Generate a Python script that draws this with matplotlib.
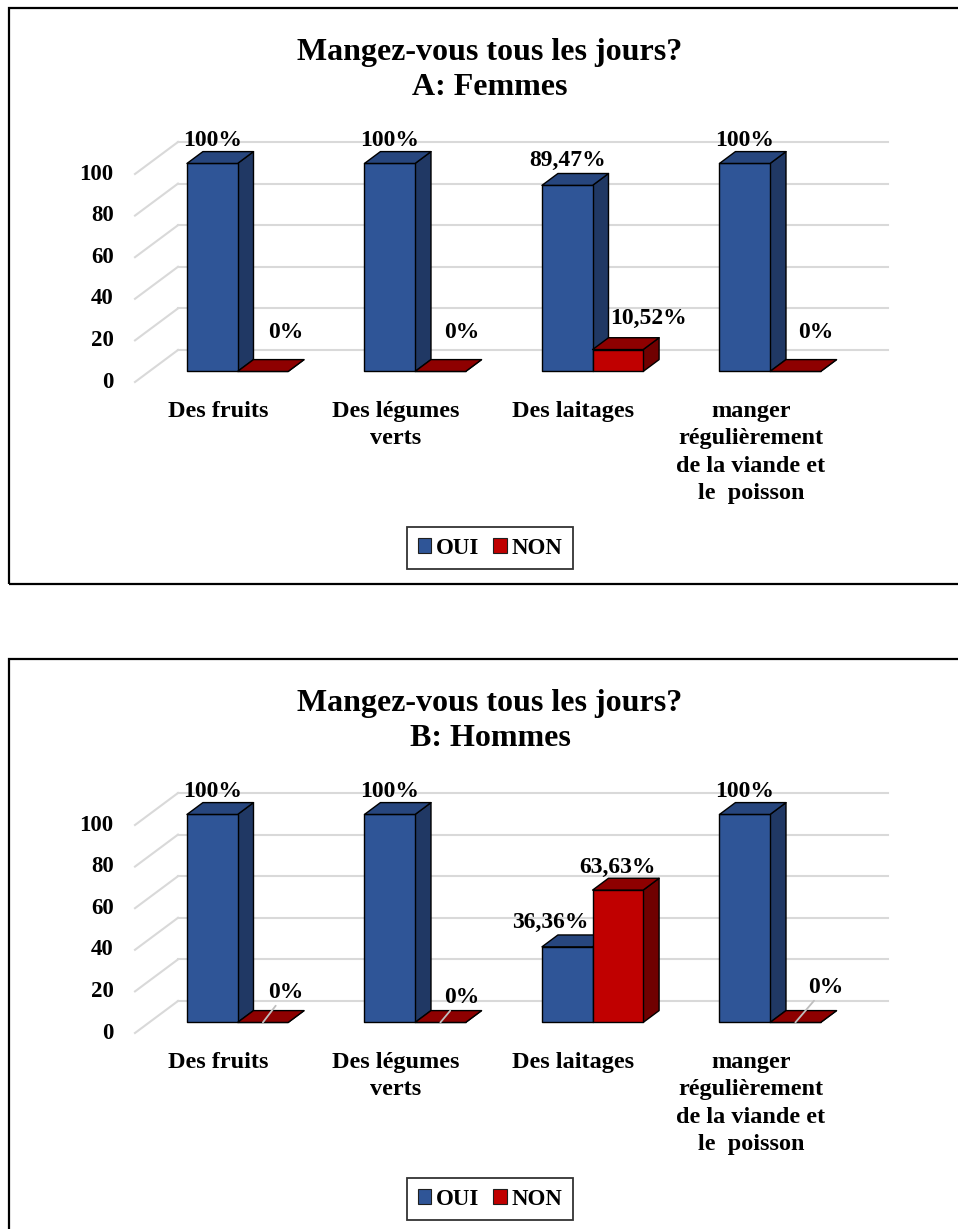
import matplotlib.pyplot as plt
from matplotlib.patches import Polygon, Patch, Rectangle

plt.rcParams['font.family'] = ['Liberation Serif', 'DejaVu Serif']
plt.rcParams['font.weight'] = 'bold'

# data
categories = ["Des fruits", "Des légumes\nverts", "Des laitages",
              "manger\nrégulièrement\nde la viande et\nle  poisson"]
series = ["OUI", "NON"]
femmes_oui = [100, 100, 89.47, 100]
femmes_non = [0, 0, 10.52, 0]
hommes_oui = [100, 100, 36.36, 100]
hommes_non = [0, 0, 63.63, 0]
yticks = [0, 20, 40, 60, 80, 100]

# label offsets (pixels, right / up) for each bar label
femmes_oui_off = [(0, 23), (0, 23), (0, 25), (0, 23)]
femmes_non_off = [(23, 39), (21, 39), (31, 31), (20, 39)]
hommes_oui_off = [(0, 23), (0, 23), (-17, 24), (0, 23)]
hommes_non_off = [(23, 30), (21, 25), (0, 23), (30, 35)]

# geometry of the fake 3d chart (pixels)
W, H = 958, 1229
X0, CAT = 135, 177.5          # front-left x, width of one category
V0, PXV = 382, 2.08           # front zero line y, pixels per unit
DX, DY = 43, 32               # depth offset of back wall
dxc, dyv = DX / CAT, DY / PXV
Z0, Z1 = 0.33, 0.70
PANEL_H = 620

colors = {"OUI": ("#2F5597", "#27467E", "#203864"),
          "NON": ("#C00000", "#8E0000", "#700000")}
grid_c = "#d9d9d9"


def P(x, v, z):
    return (x + z * dxc, v + z * dyv)


def box(ax, x0, x1, v, cols):
    cf, ct, cs = cols
    front = [P(x0, 0, Z0), P(x1, 0, Z0), P(x1, v, Z0), P(x0, v, Z0)]
    top = [P(x0, v, Z0), P(x1, v, Z0), P(x1, v, Z1), P(x0, v, Z1)]
    side = [P(x1, 0, Z0), P(x1, 0, Z1), P(x1, v, Z1), P(x1, v, Z0)]
    for poly, c in ((side, cs), (front, cf), (top, ct)):
        ax.add_patch(Polygon(poly, closed=True, fc=c, ec="black", lw=1.0,
                             joinstyle="round", zorder=3))


def fmt(v):
    return f"{v:g}%".replace(".", ",")


def panel(top, title, oui, non, oui_off, non_off, leaders):
    ax = fig.add_axes([0, 1 - (top + PANEL_H) / H, 1, PANEL_H / H])
    ax.set_xlim(-X0 / CAT, (W - X0) / CAT)
    ax.set_ylim((V0 - PANEL_H) / PXV, V0 / PXV)
    ax.axis("off")

    n = len(categories)
    # back wall grid + left diagonals
    for t in yticks:
        bx, by = P(0, t, 1)
        ax.plot([0, bx], [t, by], color=grid_c, lw=1.5, zorder=1)
        ax.plot([bx, n + dxc], [by, by], color=grid_c, lw=1.5, zorder=1)
        ax.text(-0.12, t, str(t), ha="right", va="center", fontsize=16.5)

    bw = 0.285
    for i in range(n):
        x0 = i + 0.213
        box(ax, x0, x0 + bw, oui[i], colors["OUI"])
        box(ax, x0 + bw, x0 + 2 * bw, non[i], colors["NON"])
        for k, (vals, offs) in enumerate(((oui, oui_off), (non, non_off))):
            xc = x0 + bw * (k + 0.5)
            xy = P(xc, vals[i], Z0)
            dx, dy = offs[i]
            ap = None
            if k == 1 and vals[i] == 0 and leaders:
                ap = dict(arrowstyle="-", color="#bfbfbf", lw=1.3,
                          shrinkA=0, shrinkB=0)
            ax.annotate(fmt(vals[i]), xy=xy, xytext=(dx * 0.72, dy * 0.72),
                        textcoords="offset points", ha="center", va="center",
                        fontsize=17, arrowprops=ap, zorder=5)
        ax.text(i + 0.47, -9.0, categories[i], ha="center", va="top",
                fontsize=17.5, linespacing=1.4)

    ax.text(2.0, (V0 - 70) / PXV, title, ha="center", va="center",
            fontsize=23, linespacing=1.25)

    handles = [Patch(fc=colors[s][0], ec="#1f1f1f", lw=0.8) for s in series]
    leg = ax.legend(handles, series, loc="center", ncol=2,
                    bbox_to_anchor=(2.0, (V0 - 548) / PXV),
                    bbox_transform=ax.transData, fancybox=False,
                    edgecolor="black", prop=dict(size=16.5, weight="bold"),
                    handlelength=0.6, handleheight=0.6, handletextpad=0.2,
                    columnspacing=0.6, borderpad=0.45)
    leg.get_frame().set_linewidth(1.3)
    return ax


fig = plt.figure(figsize=(W / 100, H / 100), dpi=100)

panel(0, "Mangez-vous tous les jours?\nA: Femmes", femmes_oui, femmes_non,
      femmes_oui_off, femmes_non_off, False)
panel(651, "Mangez-vous tous les jours?\nB: Hommes", hommes_oui, hommes_non,
      hommes_oui_off, hommes_non_off, True)

# chart borders
fig.add_artist(Rectangle((9 / W, 1 - 584 / H), 1.0, (584 - 8) / H,
                         transform=fig.transFigure, fill=False,
                         ec="black", lw=1.6))
fig.add_artist(Rectangle((9 / W, -0.05), 1.0, 1 - 659 / H + 0.05,
                         transform=fig.transFigure, fill=False,
                         ec="black", lw=1.6))

fig.savefig("out.png", dpi=100)
